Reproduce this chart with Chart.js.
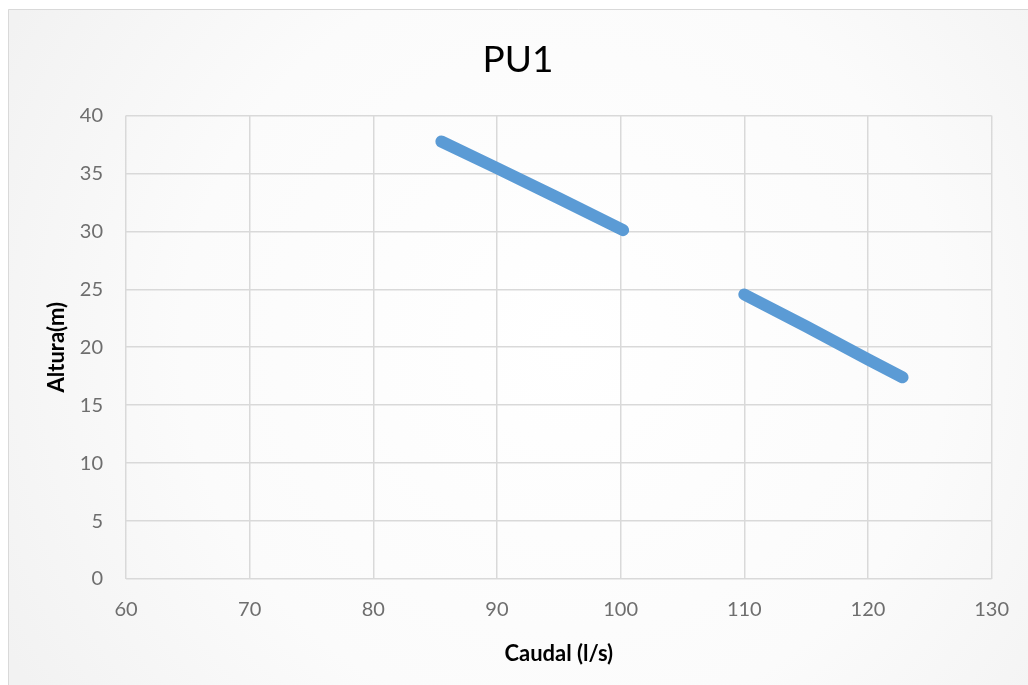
<!DOCTYPE html>
<html>
<head>
<meta charset="utf-8">
<script src="https://cdn.jsdelivr.net/npm/chart.js@4/dist/chart.umd.min.js"></script>
<style>
  html, body { margin: 0; padding: 0; background: #ffffff; }
  #wrap { width: 1028px; height: 685px; position: relative; }
</style>
</head>
<body>
<div id="wrap"><canvas id="c" width="1028" height="685"></canvas></div>
<script>
const chartTitle = 'PU1';
const xAxisTitle = 'Caudal (l/s)';
const yAxisTitle = 'Altura(m)';

const xTicks = [60, 70, 80, 90, 100, 110, 120, 130];
const yTicks = [0, 5, 10, 15, 20, 25, 30, 35, 40];

const caudal1 = [85.5, 90, 95, 100.2];
const altura1 = [37.75, 35.45, 32.85, 30.1];
const caudal2 = [110.0, 115, 120, 122.8];
const altura2 = [24.55, 21.8, 18.95, 17.4];

const toPoints = (xs, ys) => xs.map((x, i) => ({ x: x, y: ys[i] }));

const bgPlugin = {
  id: 'bg',
  beforeDraw(chart) {
    const ctx = chart.ctx;
    const W = chart.width, H = chart.height;
    ctx.save();
    ctx.fillStyle = '#ffffff';
    ctx.fillRect(0, 0, W, H);
    const g = ctx.createRadialGradient(W * 0.55, H * 0.5, 0, W * 0.55, H * 0.5, W * 0.62);
    g.addColorStop(0, '#ffffff');
    g.addColorStop(0.6, '#fbfbfb');
    g.addColorStop(1, '#f2f2f2');
    ctx.fillStyle = g;
    ctx.fillRect(8, 9, W, H);
    ctx.strokeStyle = '#d9d9d9';
    ctx.lineWidth = 1;
    ctx.beginPath();
    ctx.moveTo(8.5, H + 5);
    ctx.lineTo(8.5, 9.5);
    ctx.lineTo(W + 5, 9.5);
    ctx.stroke();
    ctx.restore();
  }
};

const lineStyle = {
  showLine: true,
  borderColor: '#5b9bd5',
  backgroundColor: '#5b9bd5',
  borderWidth: 12,
  borderCapStyle: 'round',
  borderJoinStyle: 'round',
  pointRadius: 0,
  pointHoverRadius: 0,
  tension: 0
};

new Chart(document.getElementById('c'), {
  type: 'scatter',
  data: {
    datasets: [
      Object.assign({ data: toPoints(caudal1, altura1) }, lineStyle),
      Object.assign({ data: toPoints(caudal2, altura2) }, lineStyle)
    ]
  },
  options: {
    responsive: false,
    animation: false,
    devicePixelRatio: 1,
    layout: { padding: { left: 44, right: 36, top: 0, bottom: 18 } },
    plugins: {
      legend: { display: false },
      tooltip: { enabled: false },
      title: {
        display: true,
        text: chartTitle,
        color: '#000000',
        font: { family: 'Lato', size: 37, weight: 'normal' },
        padding: { top: 38, bottom: 33 }
      }
    },
    scales: {
      x: {
        type: 'linear',
        min: xTicks[0],
        max: xTicks[xTicks.length - 1],
        afterBuildTicks(scale) { scale.ticks = xTicks.map(v => ({ value: v })); },
        afterFit(scale) { scale.height = 88; },
        grid: { color: '#d9d9d9', lineWidth: 1.5, drawTicks: false },
        border: { display: false },
        ticks: {
          padding: 19,
          color: '#6e6e6e',
          font: { family: 'Lato', size: 20 }
        },
        title: {
          display: true,
          text: xAxisTitle,
          color: '#000000',
          font: { family: 'Lato', size: 22, weight: 'bold' },
          padding: { top: 0, bottom: 0 }
        }
      },
      y: {
        type: 'linear',
        min: yTicks[0],
        max: yTicks[yTicks.length - 1],
        afterBuildTicks(scale) { scale.ticks = yTicks.map(v => ({ value: v })); },
        afterFit(scale) { scale.width = 82; },
        grid: { color: '#d9d9d9', lineWidth: 1.5, drawTicks: false },
        border: { display: false },
        ticks: {
          padding: 23,
          color: '#6e6e6e',
          font: { family: 'Lato', size: 20 }
        },
        title: {
          display: true,
          text: yAxisTitle,
          color: '#000000',
          font: { family: 'Lato', size: 22, weight: 'bold' },
          padding: { top: 0, bottom: 0 }
        }
      }
    }
  },
  plugins: [bgPlugin]
});
</script>
</body>
</html>
